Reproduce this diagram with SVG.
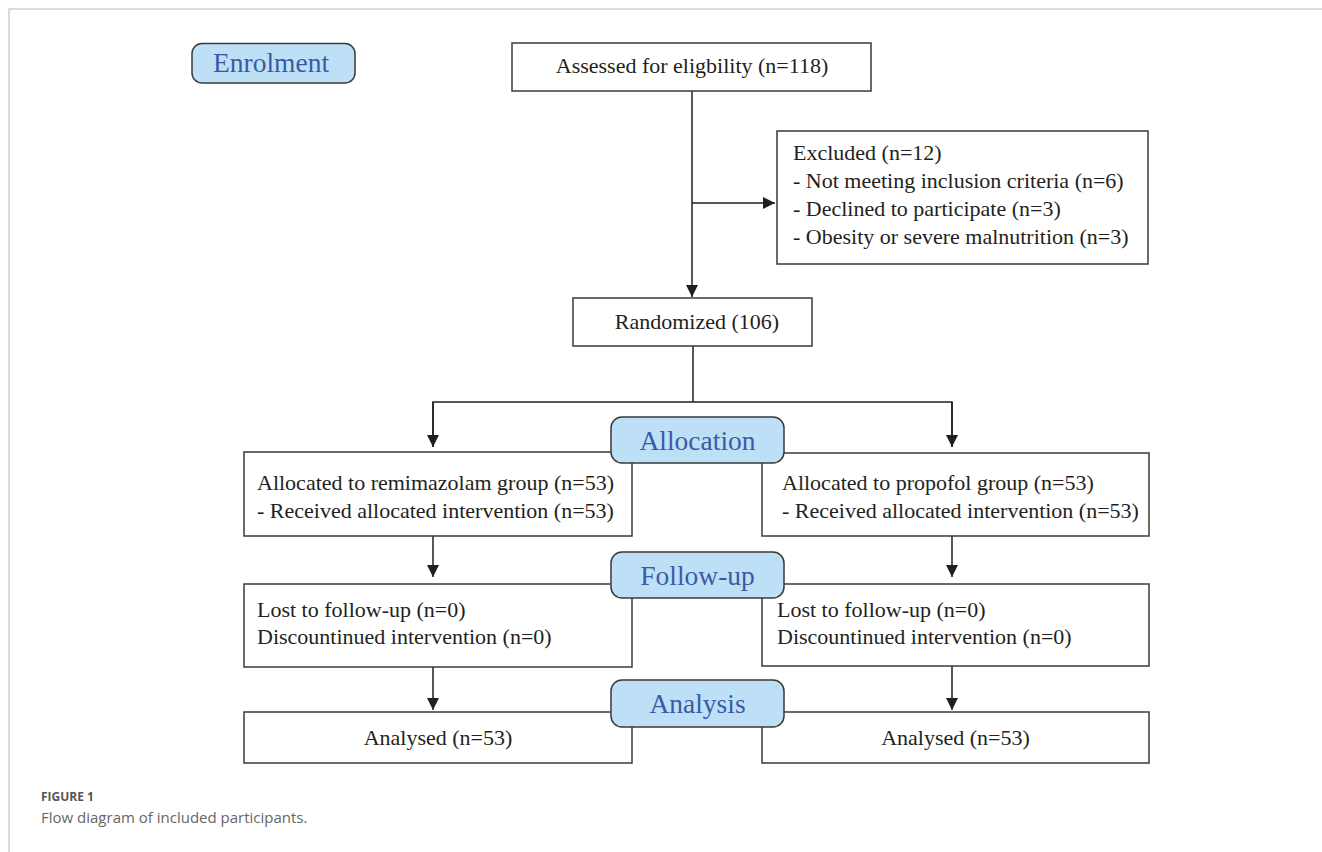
<svg xmlns="http://www.w3.org/2000/svg" width="1322" height="852" viewBox="0 0 1322 852">
<defs>
<style>
.box{fill:#fff;stroke:#3a3a3a;stroke-width:1.5}
.pill{fill:#bee0f6;stroke:#3a3a3a;stroke-width:1.5}
.t{font-family:"Liberation Serif","Times New Roman",serif;font-size:22px;fill:#231f20}
.pt{font-family:"Liberation Serif","Times New Roman",serif;font-size:27.5px;fill:#3b5aa6;text-anchor:middle}
.ln{fill:none;stroke:#231f20;stroke-width:1.5}
.cap{font-family:"Open Sans","Noto Sans",sans-serif}
</style>
<marker id="ah" viewBox="0 0 12 12" refX="12" refY="6" markerWidth="12" markerHeight="12" markerUnits="userSpaceOnUse" orient="auto">
<path d="M0,0 L12,6 L0,12 Z" fill="#231f20"/>
</marker>
</defs>
<rect width="1322" height="852" fill="#fff"/>
<path d="M9,852 V9 H1322" fill="none" stroke="#d0d0d0" stroke-width="1.5"/>

<g id="connectors">
<path class="ln" d="M692,91 V297" marker-end="url(#ah)"/>
<path class="ln" d="M692,203 H775" marker-end="url(#ah)"/>
<path class="ln" d="M693,346 V402"/>
<path class="ln" d="M433,447 V402 H952 V447" />
<path class="ln" d="M433,402 V447" marker-end="url(#ah)"/>
<path class="ln" d="M952,402 V447" marker-end="url(#ah)"/>
<path class="ln" d="M433,536 V577" marker-end="url(#ah)"/>
<path class="ln" d="M952,536 V577" marker-end="url(#ah)"/>
<path class="ln" d="M433,667 V710" marker-end="url(#ah)"/>
<path class="ln" d="M952,666 V710" marker-end="url(#ah)"/>
</g>

<g id="enrolment">
<rect class="pill" x="192" y="43.5" width="163" height="39.5" rx="10"/>
<text class="pt" x="271" y="72">Enrolment</text>
</g>

<g id="assessed">
<rect class="box" x="512" y="43" width="359" height="48"/>
<text class="t" x="692" y="73" text-anchor="middle">Assessed for eligbility (n=118)</text>
</g>

<g id="excluded">
<rect class="box" x="777" y="131" width="371" height="133"/>
<text class="t" x="793" y="160">Excluded (n=12)</text>
<text class="t" x="793" y="188">- Not meeting inclusion criteria (n=6)</text>
<text class="t" x="793" y="216">- Declined to participate (n=3)</text>
<text class="t" x="793" y="244">- Obesity or severe malnutrition (n=3)</text>
</g>

<g id="randomized">
<rect class="box" x="573" y="298" width="239" height="48"/>
<text class="t" x="697" y="329" text-anchor="middle">Randomized (106)</text>
</g>

<g id="alloc-left">
<rect class="box" x="244" y="452" width="388" height="84"/>
<text class="t" x="257" y="490">Allocated to remimazolam group (n=53)</text>
<text class="t" x="257" y="518">- Received allocated intervention (n=53)</text>
</g>

<g id="alloc-right">
<rect class="box" x="762" y="453" width="387" height="83"/>
<text class="t" x="782" y="490">Allocated to propofol group (n=53)</text>
<text class="t" x="782" y="518">- Received allocated intervention (n=53)</text>
</g>

<g id="allocation">
<rect class="pill" x="611" y="417" width="173" height="46" rx="11"/>
<text class="pt" x="697.5" y="450">Allocation</text>
</g>

<g id="follow-left">
<rect class="box" x="244" y="584" width="388" height="83"/>
<text class="t" x="257" y="617">Lost to follow-up (n=0)</text>
<text class="t" x="257" y="644">Discountinued intervention (n=0)</text>
</g>

<g id="follow-right">
<rect class="box" x="762" y="584" width="387" height="82"/>
<text class="t" x="777" y="617">Lost to follow-up (n=0)</text>
<text class="t" x="777" y="644">Discountinued intervention (n=0)</text>
</g>

<g id="followup">
<rect class="pill" x="611" y="552" width="173" height="46" rx="11"/>
<text class="pt" x="697.5" y="585">Follow-up</text>
</g>

<g id="analysed-left">
<rect class="box" x="244" y="712" width="388" height="51"/>
<text class="t" x="438" y="745" text-anchor="middle">Analysed (n=53)</text>
</g>

<g id="analysed-right">
<rect class="box" x="762" y="712" width="387" height="51"/>
<text class="t" x="955.5" y="745" text-anchor="middle">Analysed (n=53)</text>
</g>

<g id="analysis">
<rect class="pill" x="611" y="680" width="173" height="47" rx="11"/>
<text class="pt" x="697.5" y="713">Analysis</text>
</g>

<text class="cap" x="41" y="801" font-size="12" font-weight="bold" fill="#555">FIGURE 1</text>
<text class="cap" x="41" y="823" font-size="15" fill="#666">Flow diagram of included participants.</text>
</svg>
